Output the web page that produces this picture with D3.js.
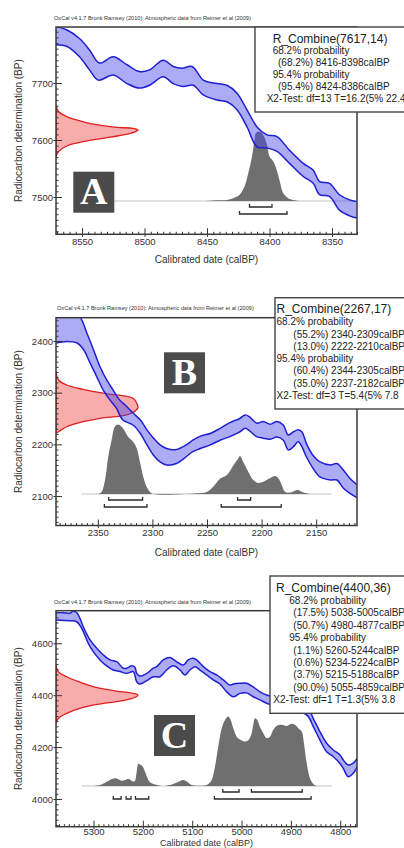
<!DOCTYPE html>
<html>
<head>
<meta charset="utf-8">
<script src="https://cdn.jsdelivr.net/npm/d3@7"></script>
<style>
body { margin: 0; background: #fff; }
text { font-family: "Liberation Sans", Arial, sans-serif; }
</style>
</head>
<body>
<div class="chart"></div>
<script>
// ---------- panel A ----------
var upperA = [[8571,7799],[8562,7793],[8552,7778],[8544,7758],[8536,7735],[8525,7746],[8514,7732],[8504,7720],[8496,7723],[8485,7740],[8477,7729],[8470,7726],[8462,7729],[8453,7705],[8445,7700],[8434,7696],[8426,7682],[8418,7653],[8410,7623],[8402,7609],[8394,7606],[8384,7582],[8373,7559],[8365,7547],[8360,7527],[8352,7524],[8344,7504],[8336,7495],[8330,7492]];
var lowerA = [[8571,7767],[8562,7764],[8552,7746],[8544,7723],[8537,7705],[8525,7714],[8514,7699],[8504,7691],[8496,7696],[8485,7711],[8477,7699],[8469,7694],[8461,7696],[8453,7679],[8442,7670],[8434,7667],[8426,7653],[8418,7623],[8410,7588],[8402,7586],[8394,7580],[8384,7559],[8373,7536],[8365,7524],[8360,7504],[8352,7501],[8344,7477],[8336,7467],[8330,7463]];
var dateA = [[7661,0],[7650,0.03],[7641,0.13],[7632,0.33],[7626,0.53],[7622,0.74],[7620.5,0.94],[7617.5,1],[7612,0.92],[7605,0.66],[7597,0.33],[7589.5,0.13],[7579.5,0.03],[7571,0]];
var postA = [[8450.5,0],[8442,0.01],[8434,0.014],[8429,0.04],[8424,0.09],[8420,0.21],[8417,0.40],[8414,0.64],[8412,0.88],[8411,0.975],[8408,1],[8405,0.95],[8402,0.81],[8400,0.64],[8397,0.57],[8395,0.49],[8392,0.30],[8389,0.11],[8385,0.04],[8381,0.014],[8376,0]];
var baseA = [8550, 8333];
var r68A = [[8416,8398]], p68A = [68.2];
var r95A = [[8424,8386]], p95A = [95.4];
var combineA = [7617, 14];
var testA = [13, 16.2, 22.4];
var xTicksA = [8550, 8500, 8450, 8400, 8350];
var yTicksA = [7500, 7600, 7700];

// ---------- panel B ----------
var upperB = [[2388,2452],[2368,2450],[2360,2415],[2354,2383],[2348,2350],[2342,2325],[2336,2305],[2330,2286],[2325,2276],[2317.5,2260],[2311,2247],[2305,2228],[2299,2212],[2293,2199],[2287,2192],[2278,2190],[2269,2199],[2263,2208],[2256,2216],[2247,2221],[2238,2231],[2229,2242],[2220,2250],[2215,2257],[2211,2253],[2204.5,2241],[2198.5,2244],[2192,2239],[2186,2244],[2180,2237],[2175.5,2218],[2171,2224],[2166.5,2228],[2163,2224],[2159,2202],[2153,2179],[2146.5,2166],[2137,2160],[2131,2163],[2125,2150],[2119,2134],[2112,2121]];
var lowerB = [[2388,2396],[2378.5,2399],[2369,2396],[2363,2383],[2357,2357],[2351,2331],[2345,2305],[2339,2286],[2333,2270],[2327,2247],[2317.5,2237],[2311,2221],[2305,2199],[2299,2179],[2293,2166],[2287,2160],[2278,2163],[2269,2176],[2263,2186],[2256,2192],[2247,2199],[2238,2208],[2229,2215],[2220,2224],[2215,2231],[2211,2226],[2204.5,2215],[2198.5,2212],[2192,2210],[2186,2214],[2180,2208],[2175.5,2189],[2171,2195],[2166.5,2205],[2163,2195],[2159,2176],[2153,2154],[2146.5,2137],[2137,2131],[2131,2131],[2125,2115],[2119,2105],[2112,2096]];
var dateB = [[2340.6,0],[2324.5,0.03],[2314.8,0.13],[2306.5,0.33],[2300,0.54],[2295.5,0.74],[2289,0.94],[2272,1],[2266.4,0.98],[2256.8,0.86],[2250.4,0.54],[2243.8,0.33],[2234,0.13],[2224.4,0.03],[2221.3,0]];
var postB = [[2349.6,0],[2346.5,0.03],[2343.4,0.2],[2340.4,0.54],[2337.3,0.78],[2334.3,0.97],[2331.2,1],[2326.7,0.94],[2322.1,0.82],[2317.5,0.75],[2314.4,0.66],[2311.4,0.46],[2308.4,0.25],[2305.2,0.1],[2302.2,0.03],[2299.2,0],[2268.6,0],[2259.5,0.01],[2250.3,0.03],[2244.3,0.105],[2238.1,0.22],[2232,0.27],[2225.9,0.41],[2221.4,0.51],[2219.8,0.545],[2216.8,0.46],[2212.2,0.32],[2207.6,0.2],[2203,0.16],[2198.5,0.177],[2192.3,0.225],[2187.8,0.258],[2184.7,0.225],[2181.6,0.13],[2178.6,0.034],[2174,0.02],[2169.4,0.048],[2166.4,0.057],[2163.3,0.034],[2158.7,0.01],[2155.7,0]];
var baseB = [2365, 2136];
var r68B = [[2340,2309],[2222,2210]], p68B = [55.2, 13.0];
var r95B = [[2344,2305],[2237,2182]], p95B = [60.4, 35.0];
var combineB = [2267, 17];
var testB = [3, 5.4, 7.8];
var xTicksB = [2350, 2300, 2250, 2200, 2150];
var yTicksB = [2100, 2200, 2300, 2400];

// ---------- panel C ----------
var upperC = [[5376,4718],[5361,4718],[5347.6,4716],[5341,4724],[5333,4716],[5327.4,4696],[5320.7,4664],[5307,4613],[5293.5,4581],[5280,4555],[5266.6,4536],[5253,4529],[5239.6,4504],[5232.7,4504],[5222.6,4513],[5216,4508],[5212.5,4484],[5205.8,4474],[5192.2,4484],[5178.8,4504],[5172,4510],[5158.6,4536],[5145,4545],[5138.3,4538],[5128.2,4525],[5118,4516],[5108,4536],[5097.8,4542],[5091,4536],[5077.5,4510],[5064,4491],[5050.4,4478],[5037,4459],[5023.4,4439],[5016.7,4443],[5003.2,4446],[4989.6,4446],[4976.2,4432],[4962.6,4413],[4949,4401],[4929,4391],[4868,4356],[4854.6,4310],[4841,4259],[4827.5,4215],[4814,4189],[4800.5,4170],[4793.8,4150],[4783.7,4131],[4773.6,4138],[4765.5,4157]];
var lowerC = [[5376,4690],[5347.6,4687],[5334,4683],[5324,4658],[5310.5,4600],[5300.4,4568],[5286.8,4536],[5273.3,4513],[5260,4497],[5246.3,4491],[5232.7,4484],[5219.4,4491],[5212.5,4452],[5205.8,4443],[5192.2,4456],[5178.8,4471],[5165.3,4471],[5151.7,4497],[5138.3,4513],[5124.7,4497],[5114.6,4478],[5104.5,4497],[5094.3,4510],[5084.2,4497],[5070.6,4478],[5057.3,4459],[5043.7,4443],[5030.1,4413],[5016.7,4394],[5003.2,4407],[4989.6,4409],[4976.2,4394],[4962.6,4382],[4949,4369],[4929,4355],[4868,4324],[4854.6,4279],[4841,4227],[4827.5,4182],[4814,4163],[4800.5,4137],[4793.8,4118],[4783.7,4086],[4773.6,4099],[4765.5,4124]];
var dateC = [[4516,0],[4490,0.03],[4471,0.13],[4446,0.33],[4427,0.53],[4416,0.74],[4407,0.94],[4401,1],[4394,0.98],[4382,0.86],[4375,0.74],[4366,0.53],[4353,0.33],[4330,0.13],[4311,0.03],[4292,0]];
var postC = [[5300.4,0],[5286.8,0.014],[5276.7,0.048],[5266.6,0.087],[5256.4,0.11],[5249.7,0.096],[5242.9,0.077],[5236.2,0.087],[5229.5,0.10],[5224.6,0.087],[5219.4,0.063],[5215.9,0.077],[5212.5,0.20],[5209.2,0.32],[5205.8,0.31],[5200.3,0.28],[5195.7,0.207],[5189,0.087],[5182.1,0.038],[5172,0.014],[5158.6,0],[5145,0.014],[5134.9,0.038],[5124.7,0.072],[5118,0.087],[5111.2,0.063],[5101,0.014],[5084.2,0.005],[5070.6,0.014],[5060.5,0.087],[5053.8,0.28],[5047.1,0.57],[5040.2,0.83],[5033.5,0.95],[5026.9,1],[5022,0.95],[5016.7,0.83],[5009.8,0.71],[5003.2,0.67],[4993,0.64],[4986.3,0.66],[4979.4,0.76],[4976.2,0.88],[4972.8,0.976],[4968.1,0.95],[4962.6,0.85],[4955.9,0.76],[4949.1,0.69],[4942.4,0.71],[4935.7,0.81],[4928.8,0.865],[4918.7,0.88],[4908.5,0.865],[4898.4,0.894],[4891.7,0.88],[4885,0.83],[4878.1,0.785],[4873.5,0.615],[4868,0.33],[4861.3,0.11],[4854.6,0.029],[4847.7,0]];
var baseC = [5324, 4817];
var r68C = [[5038,5005],[4980,4877]], p68C = [17.5, 50.7];
var r95C = [[5260,5244],[5234,5224],[5215,5188],[5055,4859]], p95C = [1.1, 0.6, 3.7, 90.0];
var combineC = [4400, 36];
var testC = [1, 1.3, 3.8];
var xTicksC = [5300, 5200, 5100, 5000, 4900, 4800];
var yTicksC = [4000, 4200, 4400, 4600];

var titleText = "OxCal v4.1.7 Bronk Ramsey (2010); Atmospheric data from Reimer et al (2009)";

var panels = [
    {id: "A", upper: upperA, lower: lowerA, date: dateA, post: postA, base: baseA,
     r68: r68A, p68: p68A, r95: r95A, p95: p95A, combine: combineA, test: testA,
     xTicks: xTicksA, yTicks: yTicksA, xDomain: [8570.8, 8330], yDomain: [7434.6, 7798.2],
     xMinor: 5, yMinor: 10,
     L: {left: 56, top: 27, right: 357, bottom: 234.3, baseY: 201, titleX: 54, titleY: 20,
         tickPad: 3.8, xTitleY: 263.3, xTitleSize: 10,
         boxX: 255, boxY: 27, boxB: 112, tx: [272.7, 272.7, 278, 266.7], letter: [73.3, 171.7]}},
    {id: "B", upper: upperB, lower: lowerB, date: dateB, post: postB, base: baseB,
     r68: r68B, p68: p68B, r95: r95B, p95: p95B, combine: combineB, test: testB,
     xTicks: xTicksB, yTicks: yTicksB, xDomain: [2388.3, 2112.6], yDomain: [2043, 2445],
     xMinor: 5, yMinor: 10,
     L: {left: 56, top: 317.7, right: 357, bottom: 525.5, baseY: 494, titleX: 57, titleY: 310,
         tickPad: 3.8, xTitleY: 555.5, xTitleSize: 10,
         boxX: 275, boxY: 297.7, boxB: 409, tx: [276.5, 276.5, 293.3, 276.5], letter: [164, 352.3]}},
    {id: "C", upper: upperC, lower: lowerC, date: dateC, post: postC, base: baseC,
     r68: r68C, p68: p68C, r95: r95C, p95: p95C, combine: combineC, test: testC,
     xTicks: xTicksC, yTicks: yTicksC, xDomain: [5376, 4766], yDomain: [3893.3, 4725.6],
     xMinor: 10, yMinor: 20,
     L: {left: 56, top: 610.7, right: 357, bottom: 826.7, baseY: 786, titleX: 54, titleY: 604,
         tickPad: 2, xTitleY: 845.9, xTitleSize: 9,
         boxX: 270, boxY: 576, boxB: 713.3, tx: [276, 289.3, 293.3, 273.3], letter: [154, 715]}}
];

var svg = d3.select(".chart")
    .append("svg")
    .attr("width", 404)
    .attr("height", 848)
    .style("display", "block");

function drawPanel(p) {
    var L = p.L;
    var x = d3.scaleLinear().domain(p.xDomain).range([L.left, L.right]);
    var y = d3.scaleLinear().domain(p.yDomain).range([L.bottom, L.top]);
    var h = d3.scaleLinear().domain([0, 1]).range([L.baseY, L.baseY - 69.5]);
    var w = d3.scaleLinear().domain([0, 1]).range([L.left, L.left + 82]);

    var g = svg.append("g");
    g.append("clipPath")
        .attr("id", "clip" + p.id)
        .append("rect")
        .attr("x", L.left).attr("y", L.top)
        .attr("width", L.right - L.left).attr("height", L.bottom - L.top);

    var plot = g.append("g").attr("clip-path", "url(#clip" + p.id + ")");

    // calibrated distribution
    plot.append("line")
        .attr("x1", x(p.base[0])).attr("x2", x(p.base[1]))
        .attr("y1", L.baseY).attr("y2", L.baseY)
        .attr("stroke", "#c4c4c4").attr("stroke-width", 1.2);

    plot.append("path")
        .datum(p.post)
        .attr("fill", "#6f6f6f")
        .attr("d", d3.area()
            .curve(d3.curveCatmullRom)
            .x(function(d) { return x(d[0]); })
            .y0(L.baseY)
            .y1(function(d) { return h(d[1]); }));

    // range brackets
    function brackets(ranges, off) {
        ranges.forEach(function(r) {
            var x0 = x(r[0]), x1 = x(r[1]), yy = L.baseY + off;
            plot.append("path")
                .attr("d", "M" + x0 + "," + (yy - 3) + "V" + yy + "H" + x1 + "V" + (yy - 3))
                .attr("fill", "none").attr("stroke", "#2a2a2a").attr("stroke-width", 1.3);
        });
    }
    brackets(p.r68, 6);
    brackets(p.r95, 13);

    // radiocarbon date
    plot.append("path")
        .datum(p.date)
        .attr("fill", "rgba(240,70,70,0.45)")
        .attr("stroke", "#e01e1e")
        .attr("stroke-width", 1.3)
        .attr("d", d3.area()
            .curve(d3.curveCatmullRom)
            .y(function(d) { return y(d[0]); })
            .x0(L.left)
            .x1(function(d) { return w(d[1]); }));

    // calibration curve band
    var line = d3.line()
        .curve(d3.curveCatmullRom)
        .x(function(d) { return x(d[0]); })
        .y(function(d) { return y(d[1]); });
    var lowRev = p.lower.slice().reverse();
    plot.append("path")
        .attr("d", line(p.upper) + line(lowRev).replace(/^M/, "L") + "Z")
        .attr("fill", "rgba(70,70,235,0.45)");
    [p.upper, p.lower].forEach(function(edge) {
        plot.append("path")
            .attr("d", line(edge))
            .attr("fill", "none")
            .attr("stroke", "#1f1fd2")
            .attr("stroke-width", 1.5);
    });

    // axes
    var xMin = d3.min(p.xDomain), xMax = d3.max(p.xDomain);
    var yMin = d3.min(p.yDomain), yMax = d3.max(p.yDomain);
    var xMinorVals = d3.range(Math.ceil(xMin / p.xMinor) * p.xMinor, xMax, p.xMinor)
        .filter(function(v) { return p.xTicks.indexOf(v) < 0; });
    var yMinorVals = d3.range(Math.ceil(yMin / p.yMinor) * p.yMinor, yMax, p.yMinor)
        .filter(function(v) { return p.yTicks.indexOf(v) < 0; });

    var xMinorAxis = g.append("g")
        .attr("transform", "translate(0," + L.bottom + ")")
        .call(d3.axisBottom(x).tickValues(xMinorVals).tickSize(-2.5).tickSizeOuter(0).tickFormat(""));
    var yMinorAxis = g.append("g")
        .attr("transform", "translate(" + L.left + ",0)")
        .call(d3.axisLeft(y).tickValues(yMinorVals).tickSize(-2.5).tickSizeOuter(0).tickFormat(""));

    var xAxis = g.append("g")
        .attr("transform", "translate(0," + L.bottom + ")")
        .call(d3.axisBottom(x).tickValues(p.xTicks).tickSize(-6).tickSizeOuter(0).tickPadding(L.tickPad).tickFormat(d3.format("d")));
    xAxis.selectAll(".tick line").attr("y1", 2.5);
    var yAxis = g.append("g")
        .attr("transform", "translate(" + L.left + ",0)")
        .call(d3.axisLeft(y).tickValues(p.yTicks).tickSize(-6).tickSizeOuter(0).tickPadding(3).tickFormat(d3.format("d")));
    yAxis.selectAll(".tick line").attr("x1", -2.5);

    [xMinorAxis, yMinorAxis, xAxis, yAxis].forEach(function(a) {
        a.select(".domain").remove();
        a.selectAll(".tick line").attr("stroke", "#333").attr("stroke-width", 1);
        a.selectAll("text")
            .attr("fill", "#333")
            .style("font-size", "9.5px")
            .style("font-family", "'Liberation Sans', Arial, sans-serif");
    });

    // frame
    g.append("rect")
        .attr("x", L.left).attr("y", L.top)
        .attr("width", L.right - L.left).attr("height", L.bottom - L.top)
        .attr("fill", "none").attr("stroke", "#3a3a3a").attr("stroke-width", 1.5);

    // titles
    g.append("text")
        .attr("x", L.titleX).attr("y", L.titleY)
        .attr("font-size", 5.6).attr("fill", "#333")
        .text(titleText);

    g.append("text")
        .attr("x", (L.left + L.right) / 2).attr("y", L.xTitleY)
        .attr("text-anchor", "middle").attr("font-size", L.xTitleSize).attr("fill", "#333")
        .text("Calibrated date (calBP)");

    g.append("text")
        .attr("transform", "translate(22," + ((L.top + L.bottom) / 2) + ") rotate(-90)")
        .attr("text-anchor", "middle").attr("font-size", 10).attr("fill", "#333")
        .text("Radiocarbon determination (BP)");

    // panel letter
    g.append("rect")
        .attr("x", L.letter[0]).attr("y", L.letter[1])
        .attr("width", 41).attr("height", 41)
        .attr("fill", "#4b4b4b");
    g.append("text")
        .attr("x", L.letter[0] + 20.5).attr("y", L.letter[1] + 32.5)
        .attr("text-anchor", "middle")
        .attr("fill", "#fff")
        .style("font-family", "'Liberation Serif', 'DejaVu Serif', serif")
        .style("font-weight", "bold")
        .style("font-size", "38px")
        .text(p.id);

    // info box
    g.append("rect")
        .attr("x", L.boxX).attr("y", L.boxY)
        .attr("width", 430 - L.boxX).attr("height", L.boxB - L.boxY)
        .attr("fill", "#fff").attr("stroke", "#444").attr("stroke-width", 1.4);

    var lines = [{t: "R_Combine(" + p.combine[0] + "," + p.combine[1] + ")", x: L.tx[0], s: 12}];
    lines.push({t: "68.2% probability", x: L.tx[1], s: 10});
    p.r68.forEach(function(r, i) {
        lines.push({t: "(" + p.p68[i].toFixed(1) + "%) " + r[0] + "-" + r[1] + "calBP", x: L.tx[2], s: 10});
    });
    lines.push({t: "95.4% probability", x: L.tx[1], s: 10});
    p.r95.forEach(function(r, i) {
        lines.push({t: "(" + p.p95[i].toFixed(1) + "%) " + r[0] + "-" + r[1] + "calBP", x: L.tx[2], s: 10});
    });
    lines.push({t: "X2-Test: df=" + p.test[0] + " T=" + p.test[1] + "(5% " + p.test[2], x: L.tx[3], s: 10});

    var step = (L.boxB - 10 - (L.boxY + 15.5)) / (lines.length - 1);
    g.selectAll("text.info")
        .data(lines)
        .enter()
        .append("text")
        .attr("class", "info")
        .attr("x", function(d) { return d.x; })
        .attr("y", function(d, i) { return L.boxY + 15.5 + i * step; })
        .attr("font-size", function(d) { return d.s; })
        .attr("fill", "#222")
        .text(function(d) { return d.t; });
}

panels.forEach(drawPanel);
</script>
</body>
</html>
